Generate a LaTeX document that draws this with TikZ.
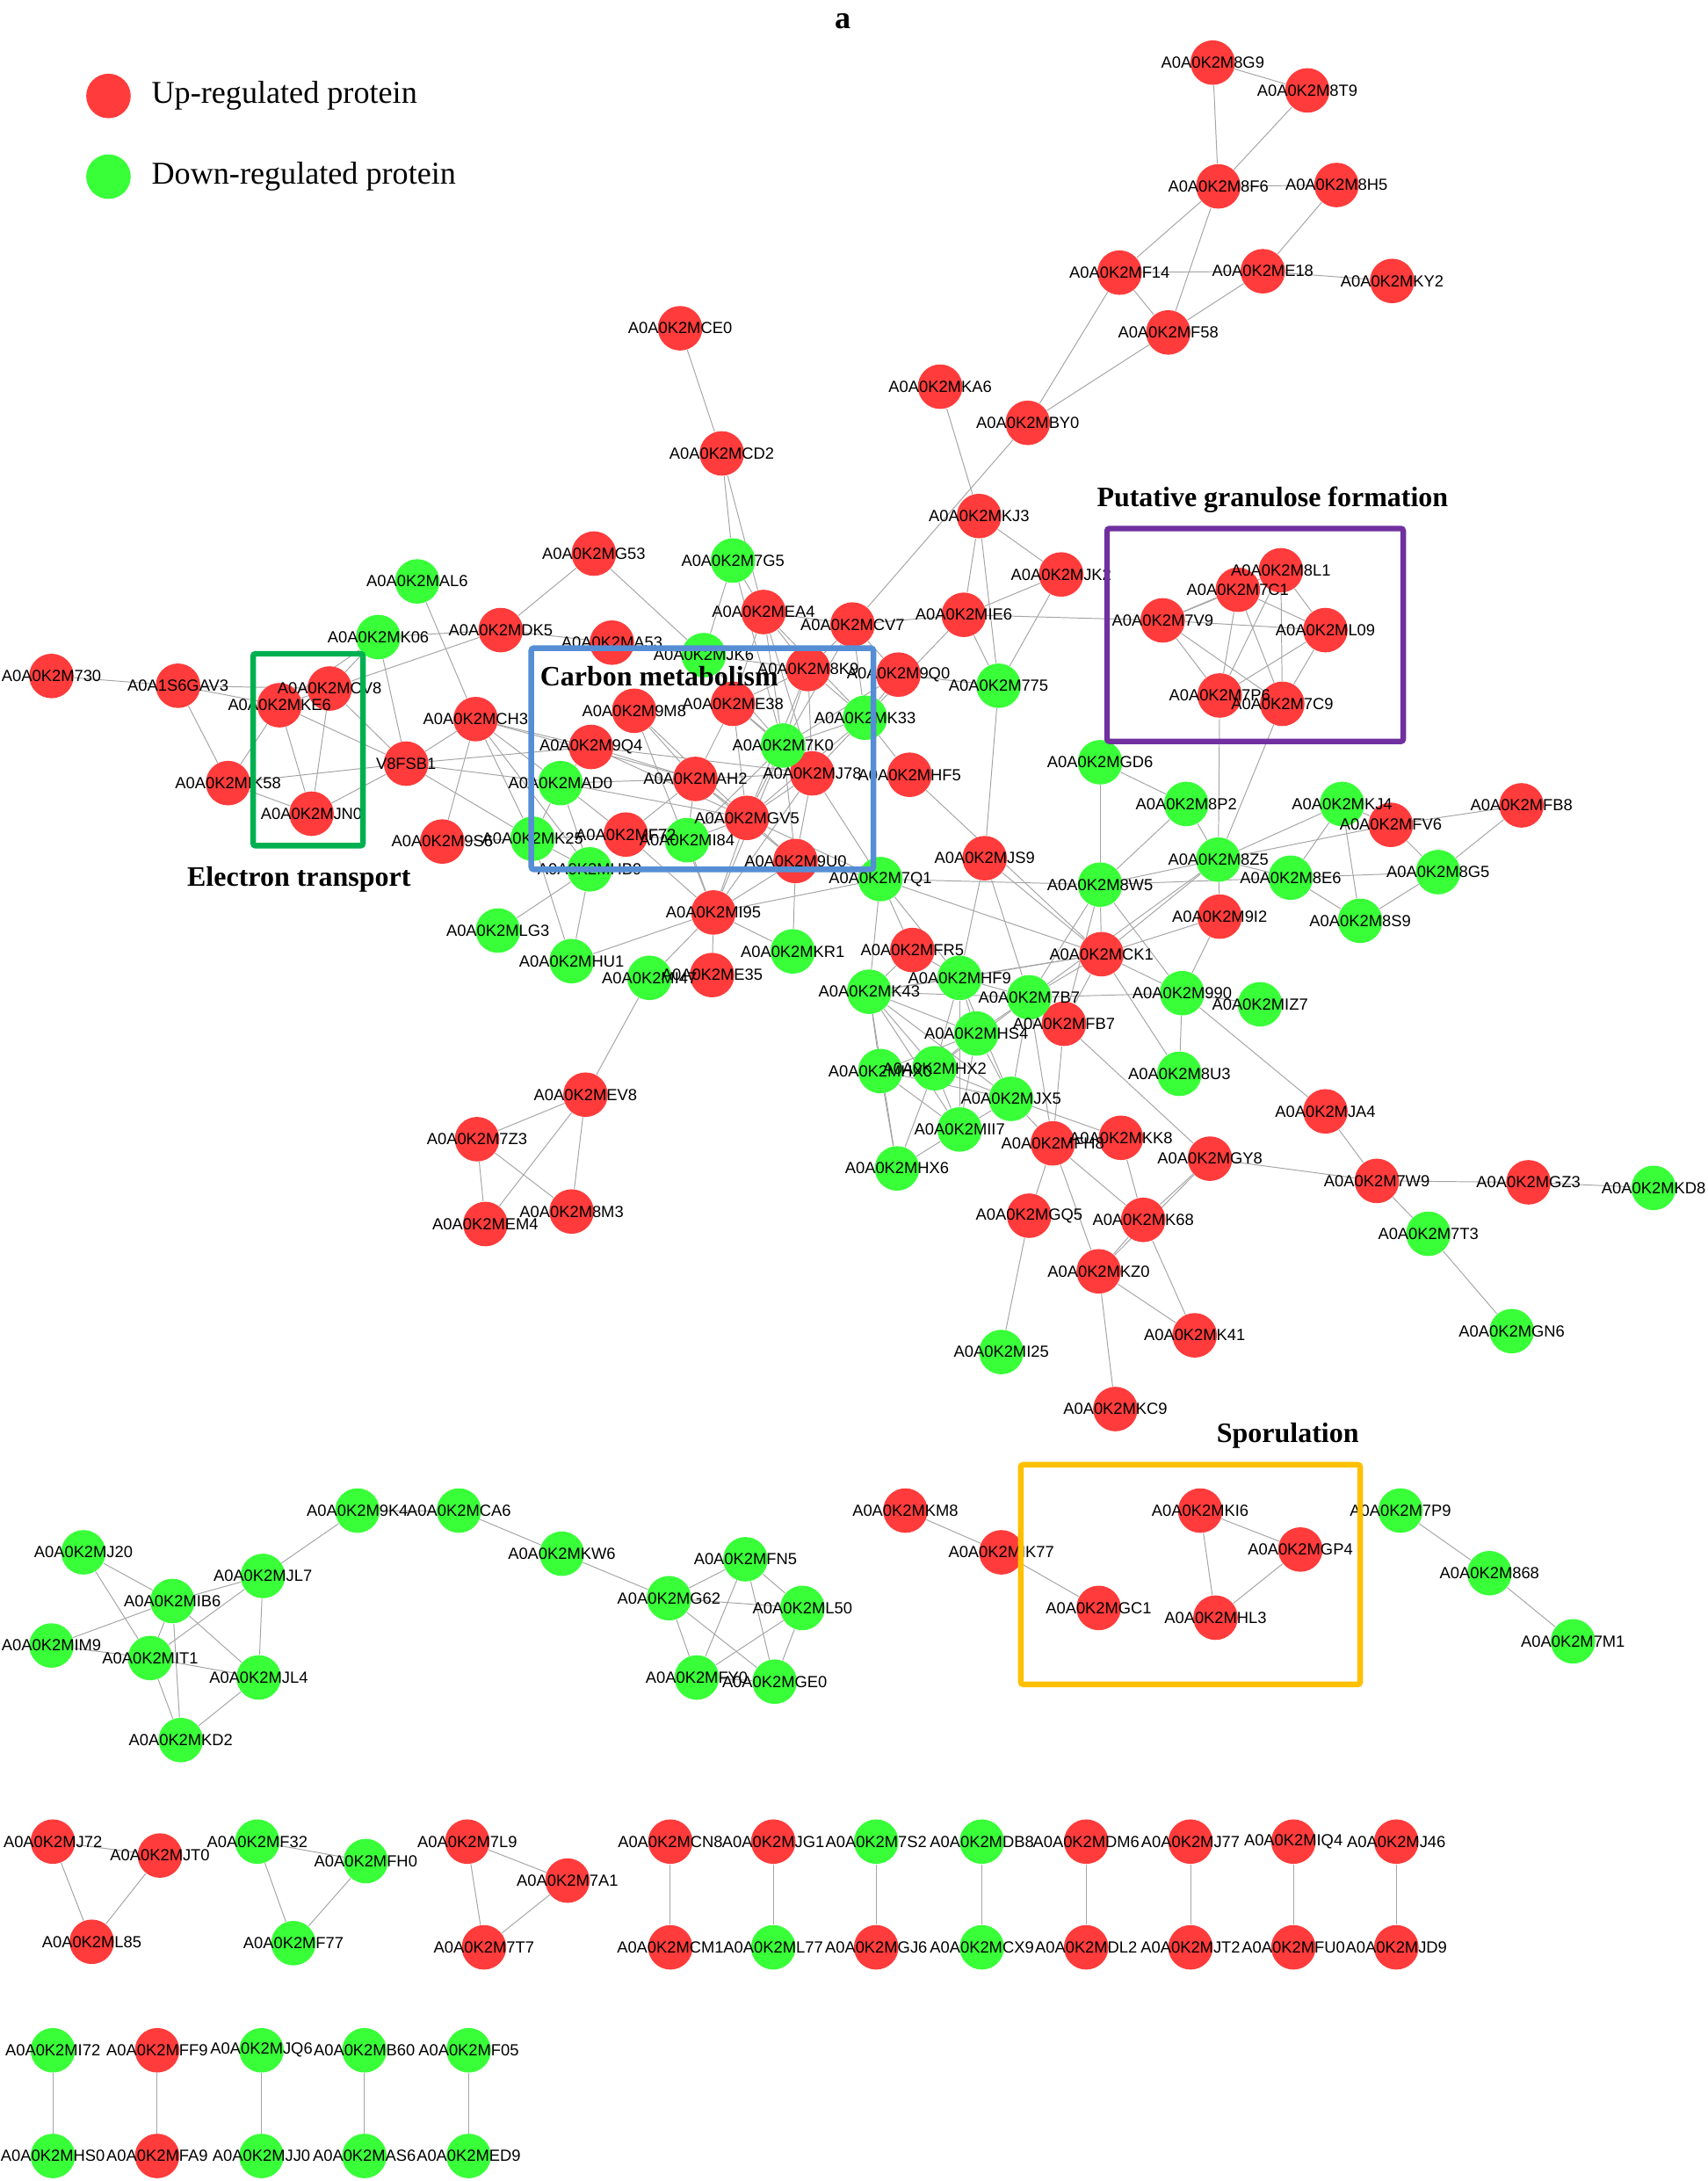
\documentclass[tikz,border=0pt]{standalone}
\usepackage{fontspec}
\setmainfont{Liberation Serif}
\newfontfamily\tagfont{Liberation Sans}
\usetikzlibrary{positioning}
\definecolor{upred}{RGB}{255,59,59}
\definecolor{downgreen}{RGB}{56,255,56}
\definecolor{edgegray}{RGB}{165,165,165}
\definecolor{etgreen}{RGB}{0,176,80}
\definecolor{cmblue}{RGB}{85,142,213}
\definecolor{gfpurple}{RGB}{112,48,160}
\definecolor{spyellow}{RGB}{255,192,0}
\pgfdeclarelayer{edges}
\pgfdeclarelayer{tags}
\pgfsetlayers{edges,main,tags}
\tikzset{
    prot/.style={circle,fill=#1,inner sep=0pt,minimum size=0.64cm},
    up/.style={prot=upred},
    down/.style={prot=downgreen},
    tag/.style={font=\tagfont\fontsize{6.6}{7}\selectfont,inner sep=0pt},
    link/.style={draw=edgegray,line width=0.35pt},
    groupbox/.style={draw=#1,line width=2.3pt,rounded corners=1pt},
    grouptitle/.style={font=\fontsize{11.5}{13}\selectfont\bfseries},
    keytext/.style={font=\fontsize{13}{15}\selectfont,anchor=west}
}

\begin{document}
\begin{tikzpicture}[x=0.02cm,y=-0.02cm]

\begin{pgfonlayer}{edges}
\fill[white] (0,0) rectangle (1228,1568);
\end{pgfonlayer}
\useasboundingbox (0,0) rectangle (1228,1568);

% title and legend
\node[font=\fontsize{13}{15}\selectfont\bfseries] (title) at (606,15) {a};
\node[up] (keyup) at (78,69) {};
\node[down] (keydown) at (78,127) {};
\node[keytext,right=0.17cm of keyup] (keyuptext) {Up-regulated protein};
\node[keytext,right=0.17cm of keydown] (keydowntext) {Down-regulated protein};

% up-regulated proteins
\foreach \id/\pos in {8G9/{872,45},8T9/{940,65},8F6/{876,134},8H5/{961,133},
  F14/{805,196},E18/{908,195},KY2/{1001,202},F58/{840,239},BY0/{739,304},
  KA6/{676,278},CE0/{489,236},CD2/{519,326},KJ3/{704,371},JK2/{763,413},
  IE6/{693,442},8L1/{921,410},7C1/{890,424},7V9/{836,446},L09/{953,453},
  7P6/{877,500},7C9/{922,506},FV6/{1000,593},FB8/{1094,579},9I2/{877,659},
  CK1/{792,686},JA4/{953,799},7W9/{990,849},GZ3/{1099,850},JS9/{708,617},
  FR5/{656,683},FB7/{765,736},FH8/{757,822},KK8/{806,818},GY8/{870,833},
  GQ5/{740,874},K68/{822,877},KZ0/{790,914},K41/{859,960},KC9/{802,1013},
  730/{37,486},KE6/{201,507},CV8/{237,495},IK58/{164,563},JN0/{224,585},
  DK5/{360,453},G53/{427,398},A53/{440,462},CH3/{342,517},9S6/{318,605},
  9Q4/{425,537},9M8/{456,511},EA4/{549,440},CV7/{613,449},8K9/{581,481},
  9Q0/{646,485},E38/{527,506},J78/{584,556},HF5/{654,557},AH2/{500,560},
  GV5/{537,588},F72/{450,600},9U0/{572,619},I95/{513,656},E35/{512,701},
  EV8/{421,787},7Z3/{343,819},EM4/{349,880},8M3/{411,871},
  KM8/{651,1086},IK77/{720,1116},GC1/{790,1156},KI6/{863,1086},GP4/{935,1114},
  HL3/{874,1163},J72/{38,1324},JT0/{115,1334},L85/{66,1396},7L9/{336,1324},
  7A1/{408,1352},7T7/{348,1400},CN8/{482,1324},JG1/{556,1324},DM6/{781,1324},
  J77/{856,1324},IQ4/{930,1324},J46/{1004,1324},CM1/{482,1400},GJ6/{630,1400},
  DL2/{781,1400},JT2/{856,1400},FU0/{930,1400},JD9/{1004,1400},
  FF9/{113,1474},FA9/{113,1550}}{
  \node[up] (m\id) at (\pos) {};
  \begin{pgfonlayer}{tags}\node[tag] at (m\id) {A0A0K2M\id};\end{pgfonlayer}
}
\node[up] (mGAV3) at (128,493) {};
\node[up] (mV8FSB1) at (292,549) {};
\begin{pgfonlayer}{tags}
\node[tag] at (mGAV3) {A0A1S6GAV3};
\node[tag] at (mV8FSB1) {V8FSB1};
\end{pgfonlayer}

% down-regulated proteins
\foreach \id/\pos in {775/{718,493},7G5/{527,403},AL6/{300,418},K06/{272,458},
  JK6/{506,471},7K0/{563,536},K33/{622,516},AD0/{403,563},K25/{383,603},
  HB9/{424,625},I84/{494,604},7Q1/{633,632},LG3/{358,669},HU1/{411,691},
  I47/{467,703},KR1/{570,684},GD6/{791,548},8P2/{853,578},KJ4/{965,578},
  8Z5/{876,618},8E6/{928,631},8G5/{1034,627},8S9/{978,662},8W5/{791,636},
  990/{850,714},IZ7/{906,722},8U3/{848,772},KD8/{1189,854},7T3/{1027,887},
  GN6/{1087,957},HF9/{690,703},K43/{625,713},7B7/{740,717},HS4/{702,743},
  HX0/{633,770},HX2/{672,768},JX5/{727,790},II7/{690,812},HX6/{645,840},
  I25/{720,972},J20/{60,1116},IB6/{124,1151},JL7/{189,1133},IM9/{37,1183},
  IT1/{108,1192},JL4/{186,1206},KD2/{130,1251},9K4/{257,1086},CA6/{330,1086},
  KW6/{404,1117},FN5/{536,1121},G62/{481,1149},L50/{577,1156},FY0/{501,1206},
  GE0/{557,1209},7P9/{1007,1086},868/{1071,1131},7M1/{1131,1180},
  F32/{185,1324},FH0/{263,1338},F77/{211,1397},7S2/{630,1324},DB8/{706,1324},
  L77/{556,1400},CX9/{706,1400},I72/{38,1474},JQ6/{188,1474},B60/{262,1474},
  F05/{337,1474},HS0/{38,1550},JJ0/{188,1550},AS6/{262,1550},ED9/{337,1550}}{
  \node[down] (m\id) at (\pos) {};
  \begin{pgfonlayer}{tags}\node[tag] at (m\id) {A0A0K2M\id};\end{pgfonlayer}
}

% interactions
\begin{pgfonlayer}{edges}
\foreach \a/\b in {8G9/8T9,8G9/8F6,8T9/8F6,8F6/8H5,8F6/F14,8F6/F58,8H5/E18,
  F14/E18,E18/KY2,F14/F58,E18/F58,F14/BY0,F58/BY0,BY0/CV7,CE0/CD2,CD2/7G5,
  CD2/EA4,KA6/KJ3,KJ3/JK2,KJ3/IE6,KJ3/775,JK2/IE6,JK2/775,IE6/775,IE6/7V9,
  IE6/CV7,IE6/K33,775/JS9,775/9Q0,
  7V9/7C1,7V9/8L1,7V9/L09,7V9/7P6,7V9/7C9,7C1/7P6,7C1/7C9,7C1/L09,8L1/7C9,
  8L1/7P6,8L1/L09,L09/7P6,L09/7C9,7P6/8Z5,7C9/8Z5,
  GD6/8P2,GD6/8W5,8P2/8W5,8P2/8Z5,8Z5/8W5,8Z5/KJ4,8Z5/8E6,8Z5/9I2,8Z5/CK1,
  8Z5/FV6,8Z5/7B7,8W5/8E6,KJ4/8E6,KJ4/FV6,KJ4/8S9,8E6/8S9,8E6/8G5,FV6/FB8,
  FV6/8G5,FB8/8G5,8G5/8S9,9I2/CK1,9I2/990,CK1/8W5,CK1/990,CK1/8U3,CK1/7B7,
  CK1/FB7,CK1/HF9,CK1/K43,CK1/JS9,990/IZ7,990/8U3,990/JA4,990/7B7,8W5/990,
  8W5/7B7,8W5/FB7,8W5/7Q1,JA4/7W9,GY8/7W9,7W9/GZ3,GZ3/KD8,7W9/7T3,7T3/GN6,
  JS9/HF9,JS9/7B7,7Q1/FR5,7Q1/K43,7Q1/HF9,7Q1/CK1,FR5/K43,FR5/HF9,HF9/K43,
  HF9/7B7,HF9/HS4,HF9/HX2,HF9/JX5,HF9/II7,K43/7B7,K43/HS4,K43/HX0,K43/HX2,
  K43/JX5,K43/II7,K43/HX6,7B7/HS4,7B7/FB7,7B7/HX2,7B7/JX5,7B7/FH8,HS4/HX2,
  HS4/HX0,HS4/JX5,HS4/II7,HX0/HX2,HX0/HX6,HX0/JX5,HX0/II7,HX2/JX5,HX2/HX6,
  HX2/II7,JX5/II7,JX5/KK8,JX5/FH8,II7/HX6,FB7/FH8,FB7/GY8,FH8/GQ5,FH8/K68,
  FH8/KZ0,KK8/K68,GY8/K68,GY8/KZ0,K68/KZ0,K68/K41,KZ0/K41,KZ0/KC9,GQ5/I25,
  7G5/EA4,7G5/JK6,7G5/7K0,EA4/CV7,EA4/8K9,EA4/7K0,EA4/J78,EA4/K33,EA4/E38,
  CV7/8K9,CV7/7K0,CV7/K33,CV7/9Q0,8K9/7K0,8K9/J78,8K9/K33,8K9/E38,8K9/GV5,
  9Q0/K33,9Q0/7K0,E38/7K0,E38/AH2,E38/GV5,E38/J78,7K0/J78,7K0/K33,7K0/GV5,
  7K0/I84,7K0/I95,7K0/9U0,K33/J78,K33/HF5,K33/GV5,J78/GV5,J78/I95,J78/9U0,
  J78/7Q1,J78/AH2,HF5/CK1,9M8/AH2,9M8/GV5,9M8/I95,9Q4/AH2,9Q4/GV5,9Q4/AD0,
  9Q4/J78,AD0/AH2,AD0/K25,AD0/F72,AD0/GV5,AD0/HB9,AH2/GV5,AH2/I84,AH2/F72,
  AH2/9U0,GV5/I84,GV5/9U0,GV5/I95,GV5/F72,GV5/7Q1,F72/I84,F72/K25,F72/I95,
  I84/I95,9U0/I95,9U0/7Q1,9U0/KR1,K25/HB9,K25/9S6,K25/HU1,HB9/LG3,HB9/HU1,
  HU1/I95,I95/I47,I95/E35,I95/KR1,I95/7Q1,EV8/I47,EV8/7Z3,EV8/EM4,EV8/8M3,
  7Z3/EM4,7Z3/8M3,G53/JK6,DK5/G53,DK5/A53,A53/JK6,JK6/7K0,JK6/E38,JK6/8K9,
  CH3/AD0,CH3/K25,CH3/9Q4,CH3/HB9,CH3/AH2,CH3/9S6,AL6/CH3,
  730/GAV3,GAV3/CV8,GAV3/KE6,GAV3/IK58,KE6/CV8,KE6/JN0,KE6/IK58,KE6/V8FSB1,
  KE6/K06,CV8/JN0,CV8/V8FSB1,CV8/K06,CV8/DK5,IK58/V8FSB1,IK58/JN0,
  JN0/V8FSB1,K06/DK5,K06/V8FSB1,V8FSB1/CH3,V8FSB1/AD0,V8FSB1/9Q4,V8FSB1/K25,
  J20/IB6,J20/IT1,IB6/JL7,IB6/IM9,IB6/IT1,IB6/JL4,IB6/KD2,JL7/IT1,JL7/JL4,
  JL7/9K4,IM9/IT1,IT1/JL4,IT1/KD2,JL4/KD2,9K4/CA6,CA6/KW6,KW6/G62,G62/FN5,
  G62/L50,G62/FY0,G62/GE0,FN5/L50,FN5/FY0,FN5/GE0,L50/FY0,L50/GE0,FY0/GE0,
  KM8/IK77,IK77/GC1,KI6/GP4,KI6/HL3,GP4/HL3,7P9/868,868/7M1,
  J72/JT0,J72/L85,JT0/L85,F32/FH0,F32/F77,FH0/F77,7L9/7A1,7L9/7T7,7A1/7T7,
  CN8/CM1,JG1/L77,7S2/GJ6,DB8/CX9,DM6/DL2,J77/JT2,IQ4/FU0,J46/JD9,
  I72/HS0,FF9/FA9,JQ6/JJ0,B60/AS6,F05/ED9}
  \draw[link] (m\a) -- (m\b);
\end{pgfonlayer}

% functional groups
\begin{pgfonlayer}{tags}
\draw[groupbox=etgreen] (182,470) rectangle (261,608);
\draw[groupbox=cmblue] (382,466) rectangle (628,625);
\draw[groupbox=gfpurple] (796,380) rectangle (1009,533);
\draw[groupbox=spyellow] (734,1053) rectangle (978,1211);
\node[grouptitle] (ettitle) at (215,632) {Electron transport};
\node[grouptitle] (cmtitle) at (474,486) {Carbon metabolism};
\node[grouptitle] (gftitle) at (915,359) {Putative granulose formation};
\node[grouptitle] (sptitle) at (926,1032) {Sporulation};
\end{pgfonlayer}

\end{tikzpicture}
\end{document}
